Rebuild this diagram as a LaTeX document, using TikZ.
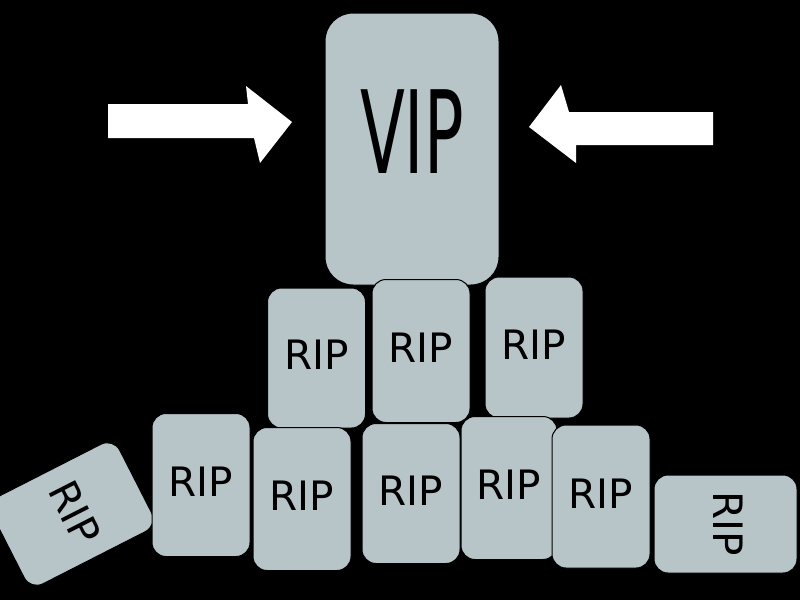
\documentclass[tikz,border=0pt]{standalone}
\usepackage{fontspec}
\setmainfont{DejaVu Sans}
\usepackage{tikz}
\definecolor{stonegray}{RGB}{183,196,200}

\begin{document}
\begin{tikzpicture}[
  x=1pt, y=-1pt,
  stone/.style={draw=black, line width=1pt, fill=stonegray, rounded corners=14pt,
    minimum width=98pt, minimum height=143pt, inner sep=0pt, text depth=6.5pt,
    font=\fontsize{40.5}{46}\selectfont},
  bigstone/.style={stone, rounded corners=28pt, minimum width=174pt, minimum height=272pt,
    text depth=34pt, font=\fontsize{115}{120}\selectfont},
  push/.style={fill=white}
]
\fill[black] (0,0) rectangle (800,600);
\useasboundingbox (0,0) rectangle (800,600);

% the big one on top
\node[bigstone] (vip) at (412,149) {\scalebox{0.57}[1]{VIP}};

% arrows pushing in
\fill[push] (108,104) -- (248,104) -- (246,86) -- (292,122) -- (260,163) -- (254,138) -- (108,138) -- cycle;
\fill[push] (713,112) -- (569,112) -- (561,85) -- (529,127) -- (576,163) -- (576,145) -- (713,145) -- cycle;

% middle row
\node[stone, minimum height=140pt] (mid1) at (316.5,358) {RIP};
\node[stone] (mid2) at (421,351) {RIP};
\node[stone, minimum height=141pt] (mid3) at (534,347.5) {RIP};

% bottom row
\node[stone, rotate=-63] (low0) at (72,514) {RIP};
\node[stone] (low1) at (201,485) {RIP};
\node[stone] (low2) at (302,499) {RIP};
\node[stone, minimum height=140pt] (low3) at (411,493.5) {RIP};
\node[stone, minimum width=96pt] (low4) at (509,488) {RIP};
\node[stone] (low5) at (601,496.5) {RIP};
\node[stone, rotate=-90] (low6) at (725.5,524) {RIP};
\end{tikzpicture}
\end{document}
